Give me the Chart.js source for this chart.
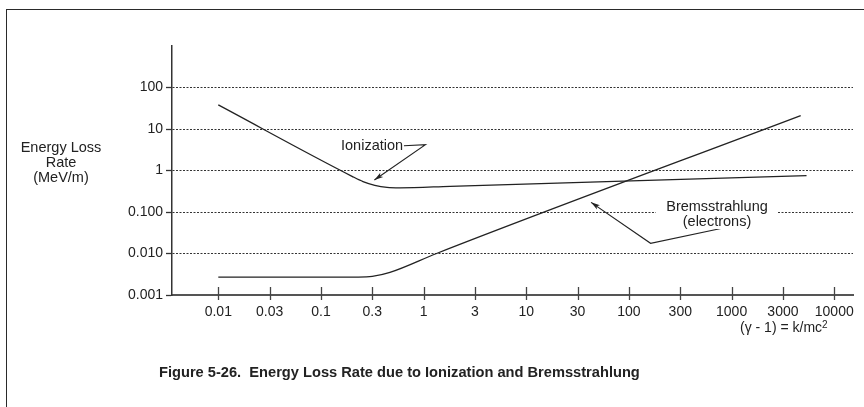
<!DOCTYPE html>
<html lang="en">
<head>
  <meta charset="UTF-8"/>
  <title>Energy Loss Rate</title>
  <script src="https://cdn.jsdelivr.net/npm/chart.js"></script>
  <style>
    html, body { margin: 0; padding: 0; background: #fff; }
    body {
      width: 864px; height: 407px; position: relative; overflow: hidden;
      font-family: "Liberation Sans", Arial, sans-serif; color: #222;
    }
    .frame {
      position: absolute; left: 6px; top: 9px; right: -10px; bottom: -10px;
      border-top: 1.5px solid #2a2a2a; border-left: 1.5px solid #2a2a2a;
    }
    #chart { position: absolute; left: 0; top: 0; }
    .lbl { position: absolute; font-size: 14.5px; line-height: 15px; white-space: nowrap; }
    .ytitle { left: 11px; width: 100px; top: 140px; text-align: center; }
    .xtitle { left: 740px; top: 320px; font-size: 14px; }
    .xtitle sup { font-size: 10px; vertical-align: 4px; line-height: 0; }
    .ion { left: 341px; top: 138px; }
    .brem { left: 656px; top: 199px; width: 122px; text-align: center; background: #fff; }
    .caption { left: 159px; top: 365px; font-size: 14.65px; font-weight: bold; white-space: pre; }
  </style>
</head>
<body>
  <div class="frame"></div>
  <canvas id="chart" width="864" height="407"></canvas>
  <div class="lbl ytitle">Energy Loss<br>Rate<br>(MeV/m)</div>
  <div class="lbl xtitle">(&gamma; - 1) = k/mc<sup>2</sup></div>
  <div class="lbl ion">Ionization</div>
  <div class="lbl brem">Bremsstrahlung<br>(electrons)</div>
  <div class="lbl caption">Figure 5-26.  Energy Loss Rate due to Ionization and Bremsstrahlung</div>

  <script>
    // x axis: labelled stops, equally spaced
    const xTicks = [0.01, 0.03, 0.1, 0.3, 1, 3, 10, 30, 100, 300, 1000, 3000, 10000];
    const xTickLabels = ['0.01', '0.03', '0.1', '0.3', '1', '3', '10', '30', '100', '300', '1000', '3000', '10000'];
    // y axis: MeV/m, log decades
    const yTicks = [0.001, 0.01, 0.1, 1, 10, 100];
    const yTickLabels = ['0.001', '0.010', '0.100', '1', '10', '100'];

    // ionization loss vs (gamma - 1)
    const ionEnergy = [0.01, 0.1945, 0.246, 0.318, 0.424, 0.574, 1.76, 5220];
    const ionRate   = [38, 0.725, 0.541, 0.44, 0.392, 0.383, 0.416, 0.75];

    // bremsstrahlung loss (electrons)
    const bremEnergy = [0.01, 0.223, 0.3, 0.454, 1.32, 4550];
    const bremRate   = [0.0027, 0.0027, 0.0028, 0.0035, 0.01, 21];

    // leader lines for the two labels, [energy, rate], arrow at the last point
    const ionLeader  = [[0.63, 3.96], [1.04, 4.19], [0.315, 0.59]];
    const bremLeader = [[822, 0.0411], [159, 0.0176], [41.1, 0.171]];

    // position of an energy along the x axis (log interpolation between stops)
    function axisPos(v) {
      const L = Math.log10;
      let i = 0;
      while (i < xTicks.length - 2 && v > xTicks[i + 1]) i++;
      return i + (L(v) - L(xTicks[i])) / (L(xTicks[i + 1]) - L(xTicks[i]));
    }
    const toPoints = (xs, ys) => xs.map((e, i) => ({ x: axisPos(e), y: ys[i] }));

    const ink = '#222';
    const font = { family: '"Liberation Sans", Arial, sans-serif', size: 14 };

    const crossTicks = {
      id: 'crossTicks',
      afterDraw(chart) {
        const { ctx } = chart;
        const xs = chart.scales.x;
        const y0 = xs.top;
        ctx.save();
        ctx.strokeStyle = '#444';
        ctx.lineWidth = 1.3;
        xs.ticks.forEach(t => {
          const px = Math.round(xs.getPixelForValue(t.value)) + 0.5;
          ctx.beginPath();
          ctx.moveTo(px, y0 - 8);
          ctx.lineTo(px, y0 + 5);
          ctx.stroke();
        });
        ctx.restore();
      }
    };

    const leaders = {
      id: 'leaders',
      afterDraw(chart) {
        const { ctx } = chart;
        const xs = chart.scales.x, ys = chart.scales.y;
        ctx.save();
        ctx.strokeStyle = ink;
        ctx.fillStyle = ink;
        ctx.lineWidth = 1.1;
        [ionLeader, bremLeader].forEach(path => {
          const pts = path.map(([e, r]) => [xs.getPixelForValue(axisPos(e)), ys.getPixelForValue(r)]);
          ctx.beginPath();
          pts.forEach(([px, py], i) => i ? ctx.lineTo(px, py) : ctx.moveTo(px, py));
          ctx.stroke();
          const [ax, ay] = pts[pts.length - 1];
          const [bx, by] = pts[pts.length - 2];
          const a = Math.atan2(ay - by, ax - bx);
          const len = 9, w = 2.6;
          ctx.beginPath();
          ctx.moveTo(ax, ay);
          ctx.lineTo(ax - len * Math.cos(a) + w * Math.sin(a), ay - len * Math.sin(a) - w * Math.cos(a));
          ctx.lineTo(ax - len * 0.75 * Math.cos(a), ay - len * 0.75 * Math.sin(a));
          ctx.lineTo(ax - len * Math.cos(a) - w * Math.sin(a), ay - len * Math.sin(a) + w * Math.cos(a));
          ctx.closePath();
          ctx.fill();
        });
        ctx.restore();
      }
    };

    const lineStyle = {
      borderColor: ink,
      borderWidth: 1.3,
      pointRadius: 0,
      fill: false,
      cubicInterpolationMode: 'monotone'
    };

    new Chart(document.getElementById('chart'), {
      type: 'line',
      data: {
        datasets: [
          Object.assign({ label: 'Ionization', data: toPoints(ionEnergy, ionRate) }, lineStyle),
          Object.assign({ label: 'Bremsstrahlung', data: toPoints(bremEnergy, bremRate) }, lineStyle)
        ]
      },
      options: {
        responsive: false,
        animation: false,
        layout: { padding: { top: 46, right: 11, left: 0, bottom: 0 } },
        plugins: { legend: { display: false }, tooltip: { enabled: false } },
        scales: {
          x: {
            type: 'linear',
            position: 'bottom',
            min: -0.902,
            max: 12.365,
            afterBuildTicks: s => { s.ticks = xTicks.map((v, i) => ({ value: i })); },
            afterFit: s => { s.height = 112; },
            grid: { display: true, drawOnChartArea: false, drawTicks: false },
            border: { color: '#555', width: 2 },
            ticks: {
              autoSkip: false, maxRotation: 0, padding: 9, color: ink, font,
              callback: v => xTickLabels[Math.round(v)]
            }
          },
          y: {
            type: 'logarithmic',
            position: 'left',
            min: 0.001,
            max: 1000,
            afterBuildTicks: s => { s.ticks = yTicks.map(v => ({ value: v })); },
            afterFit: s => { s.width = 172; },
            grid: {
              color: c => (c.tick && c.tick.value === 0.001) ? 'rgba(0,0,0,0)' : '#333',
              lineWidth: 1,
              tickColor: '#333',
              tickLength: 6,
              tickWidth: 1.3
            },
            border: { color: '#333', width: 1.5, dash: [2, 1.5] },
            ticks: {
              padding: 3, color: ink, font,
              callback: v => yTickLabels[yTicks.indexOf(v)]
            }
          }
        }
      },
      plugins: [crossTicks, leaders]
    });
  </script>
</body>
</html>
